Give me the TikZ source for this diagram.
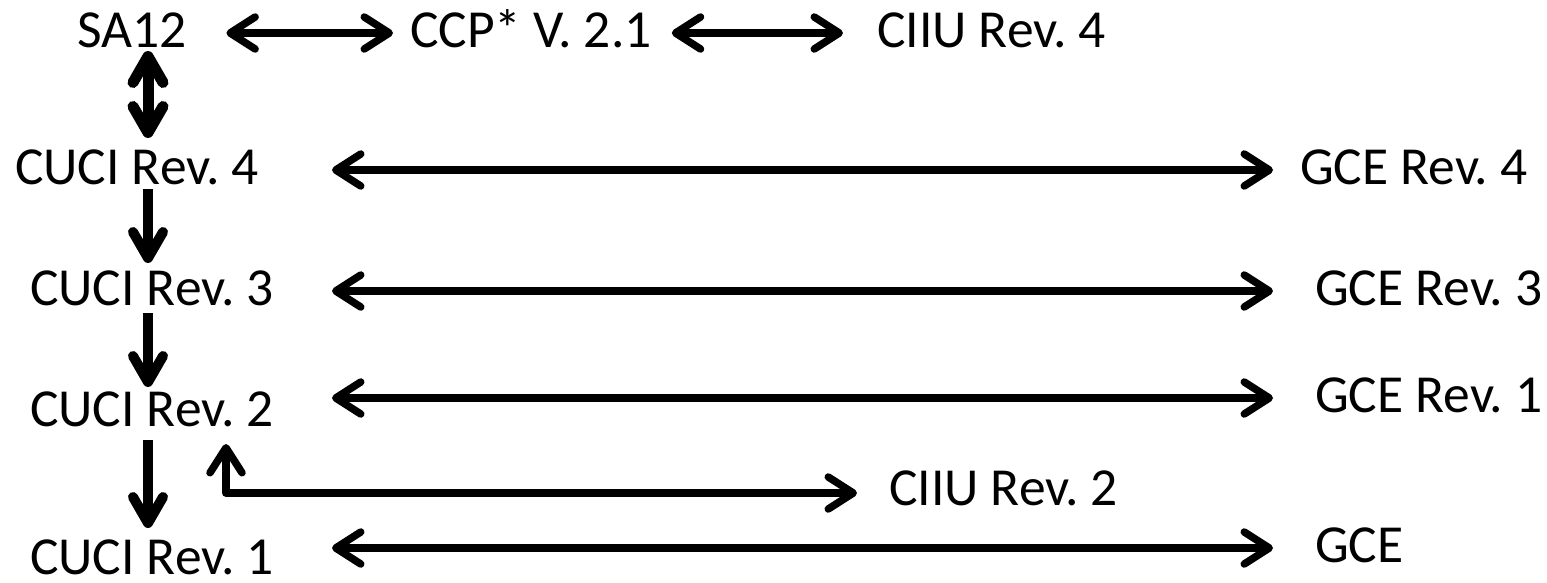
\documentclass[tikz,border=0pt]{standalone}
\usepackage{fontspec}
\setmainfont{Carlito}
\usetikzlibrary{arrows.meta}
\frenchspacing
\tikzset{
  hb/.tip={Straight Barb[length=25pt,width=32pt,round]},
  vb/.tip={Straight Barb[length=26pt,width=30pt,round]},
}
\begin{document}
\begin{tikzpicture}[x=1pt,y=-1pt,
  lbl/.style={inner sep=0pt, outer sep=0pt, anchor=base west, text height=28pt, text depth=0pt, font=\fontsize{53.5}{60}\selectfont},
  hboth/.style={line width=7.5pt, line cap=butt, {hb}-{hb}},
  vdown/.style={line width=10pt, line cap=butt, -{vb}},
  vboth/.style={line width=11pt, line cap=butt, {vb}-{vb}},
]
\useasboundingbox (0,0) rectangle (1547,582);

\node[lbl] (sa12)  at (77,47)   {SA12};
\node[lbl] (ccp)   at (410,47)  {CCP* V. 2.1};
\node[lbl] (ciiu4) at (877,47)  {CIIU Rev. 4};
\node[lbl] (cuci4) at (15,184)  {CUCI Rev. 4};
\node[lbl] (gce4)  at (1300,184) {GCE Rev. 4};
\node[lbl] (cuci3) at (30,305)  {CUCI Rev. 3};
\node[lbl] (gce3)  at (1315,305) {GCE Rev. 3};
\node[lbl] (cuci2) at (30,426)  {CUCI Rev. 2};
\node[lbl] (gce1)  at (1315,412) {GCE Rev. 1};
\node[lbl] (ciiu2) at (889,505) {CIIU Rev. 2};
\node[lbl] (cuci1) at (30,574)  {CUCI Rev. 1};
\node[lbl] (gce)   at (1315,562) {GCE};

\coordinate (L) at (332,0);
\coordinate (R) at (1273,0);
\coordinate (X) at (148,0);
\coordinate (up) at (226,444);

% top row
\draw[hboth, shorten <=40pt, shorten >=17pt] (sa12.east) -- (ccp.west);
\draw[hboth, shorten <=20pt, shorten >=34pt] (ccp.east) -- (ciiu4.west);

% long rows
\draw[hboth] (L |- gce4.west) -- (R |- gce4.west);
\draw[hboth] (L |- gce3.west) -- (R |- gce3.west);
\draw[hboth] (L |- gce1.west) -- (R |- gce1.west);
\draw[hboth] (L |- gce.west) -- (R |- gce.west);

% vertical
\draw[vboth, shorten <=4pt, shorten >=18pt] (X |- sa12.south) -- (X |- cuci4.north);
\draw[vdown, shorten <=5pt, shorten >=14pt] (X |- cuci4.south) -- (X |- cuci3.north);
\draw[vdown, shorten <=8pt, shorten >=11pt] (X |- cuci3.south) -- (X |- cuci2.north);
\draw[vdown, shorten <=14pt, shorten >=18pt] (X |- cuci2.south) -- (X |- cuci1.north);

% elbow
\draw[line width=7.5pt, line join=round, {hb}-{hb}, shorten >=32pt] (up) |- ([yshift=-2pt]ciiu2.west);
\end{tikzpicture}
\end{document}
